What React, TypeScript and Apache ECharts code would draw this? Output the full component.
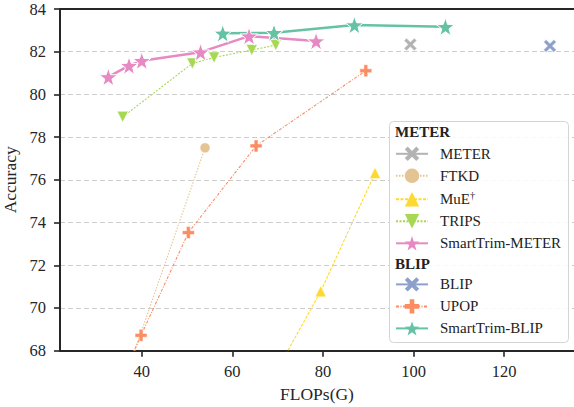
import React, { useEffect, useRef } from "react";
import * as echarts from "echarts";

const meterX = [99.3];
const meterY = [82.34];
const blipX = [130.1];
const blipY = [82.27];
const ftkdX = [35.2, 53.97];
const ftkdY = [66.0, 77.5];
const mueX = [67.0, 79.5, 91.5];
const mueY = [66.0, 70.78, 76.32];
const tripsX = [35.8, 51.17, 55.96, 64.28, 69.58];
const tripsY = [78.95, 81.45, 81.73, 82.08, 82.31];
const stMeterX = [32.63, 37.2, 40.0, 52.98, 63.69, 78.48];
const stMeterY = [80.82, 81.35, 81.58, 81.98, 82.73, 82.5];
const upopX = [34.0, 39.85, 50.29, 65.23, 89.45];
const upopY = [66.0, 68.72, 73.53, 77.59, 81.11];
const stBlipX = [57.88, 69.2, 86.93, 107.02];
const stBlipY = [82.86, 82.89, 83.25, 83.17];

const xTicks = [40, 60, 80, 100, 120];
const meterGroup = ["METER", "FTKD", "MuE†", "TRIPS", "SmartTrim-METER"];
const blipGroup = ["BLIP", "UPOP", "SmartTrim-BLIP"];

const STAR =
  "path://M0,-10 L2.35,-3.24 9.51,-3.09 3.8,1.24 5.88,8.09 0,4 -5.88,8.09 -3.8,1.24 -9.51,-3.09 -2.35,-3.24 Z";
const XMARK =
  "path://M0,2 L2,0 L5,3 L8,0 L10,2 L7,5 L10,8 L8,10 L5,7 L2,10 L0,8 L3,5 Z";
const PLUS =
  "path://M3.4,0 H6.6 V3.4 H10 V6.6 H6.6 V10 H3.4 V6.6 H0 V3.4 H3.4 Z";
const TRI_DOWN = "path://M0,0 L10,0 L5,9 Z";
const TRI_UP = "path://M5,0 L10,9 L0,9 Z";

const zip = (xs: number[], ys: number[]) => xs.map((x, i) => [x, ys[i]]);

const FONT = "Liberation Serif";

export default function App() {
  const ref = useRef<HTMLDivElement>(null);
  useEffect(() => {
    if (!ref.current) return;
    const chart = echarts.init(ref.current, null, { renderer: "svg" });
    const mk = (
      name: string,
      xs: number[],
      ys: number[],
      color: string,
      symbol: string,
      size: number,
      width: number,
      type: any,
      border: number
    ) => ({
      name,
      type: "line",
      data: zip(xs, ys),
      symbol,
      symbolSize: size,
      showAllSymbol: true,
      clip: true,
      lineStyle: { color, width, type },
      itemStyle: { color, borderColor: "#ffffff", borderWidth: border, opacity: 1 },
      emphasis: { disabled: true },
    });
    const legendCommon = {
      orient: "vertical",
      left: 395,
      padding: 0,
      itemWidth: 32,
      itemHeight: 18,
      itemGap: 7,
      selectedMode: false,
      itemStyle: { borderWidth: 0 },
      textStyle: {
        fontFamily: FONT,
        fontSize: 15,
        color: "#222222",
        padding: [0, 0, 0, 7],
        rich: {
          n: { fontFamily: FONT, fontSize: 15, color: "#222222" },
          s: { fontFamily: FONT, fontSize: 10, color: "#222222", padding: [0, 0, 8, 0] },
        },
      },
      formatter: (name: string) => (name === "MuE†" ? "{n|MuE}{s|†}" : name),
    };
    chart.setOption({
      animation: false,
      backgroundColor: "#ffffff",
      textStyle: { fontFamily: FONT },
      grid: {
        left: 60,
        right: 0,
        top: 9,
        bottom: 56.3,
        containLabel: false,
        outerBoundsMode: "none",
      },
      xAxis: [
        {
          type: "value",
          min: 21.96,
          max: 135.4,
          name: "FLOPs(G)",
          nameLocation: "middle",
          nameGap: 34.5,
          nameTextStyle: { fontFamily: FONT, fontSize: 17.5, color: "#262626" },
          axisLine: { show: true, onZero: false, lineStyle: { color: "#262626", width: 2 } },
          axisTick: {
            show: true,
            length: 6,
            customValues: xTicks,
            lineStyle: { color: "#262626", width: 1.6 },
          },
          axisLabel: {
            customValues: xTicks,
            margin: 12,
            fontFamily: FONT,
            fontSize: 16.5,
            color: "#262626",
          },
          splitLine: { show: false },
        },
        {
          type: "value",
          position: "top",
          min: 21.96,
          max: 135.4,
          axisLine: { show: true, onZero: false, lineStyle: { color: "#262626", width: 2 } },
          axisTick: { show: false },
          axisLabel: { show: false },
          splitLine: { show: false },
        },
      ],
      yAxis: {
        type: "value",
        min: 68,
        max: 84,
        interval: 2,
        name: "Accuracy",
        nameLocation: "middle",
        nameGap: 35.5,
        nameTextStyle: { fontFamily: FONT, fontSize: 17.5, color: "#262626" },
        axisLine: { show: true, onZero: false, lineStyle: { color: "#262626", width: 2 } },
        axisTick: { show: true, length: 6, lineStyle: { color: "#262626", width: 1.6 } },
        axisLabel: { margin: 14, fontFamily: FONT, fontSize: 16.5, color: "#262626" },
        splitLine: { show: true, lineStyle: { color: "#cccccc", width: 1.2, type: [5, 3] } },
      },
      legend: [
        { ...legendCommon, top: 146.3, data: meterGroup },
        { ...legendCommon, top: 276.9, data: blipGroup },
      ],
      graphic: [
        {
          type: "rect",
          z: 3,
          shape: { x: 389.5, y: 121.5, width: 179, height: 221, r: 4 },
          style: { fill: "rgba(255,255,255,0.85)", stroke: "#d4d4d4", lineWidth: 1 },
        },
        {
          type: "text",
          z: 5,
          x: 395,
          y: 131.7,
          style: {
            text: "METER",
            fontFamily: FONT,
            fontSize: 15,
            fontWeight: "bold",
            fill: "#222222",
            verticalAlign: "middle",
          },
        },
        {
          type: "text",
          z: 5,
          x: 395,
          y: 264,
          style: {
            text: "BLIP",
            fontFamily: FONT,
            fontSize: 15,
            fontWeight: "bold",
            fill: "#222222",
            verticalAlign: "middle",
          },
        },
      ],
      series: [
        mk("METER", meterX, meterY, "#b3b3b3", XMARK, 13, 1.5, "solid", 0.8),
        mk("BLIP", blipX, blipY, "#8da0cb", XMARK, 13, 1.5, "solid", 0.8),
        mk("FTKD", ftkdX, ftkdY, "#e5c494", "circle", 10, 1.1, [1.5, 1.5], 0.5),
        mk("UPOP", upopX, upopY, "#fc8d62", PLUS, 12, 1.1, [3, 1.5, 1, 1.5], 0.5),
        mk("MuE†", mueX, mueY, "#ffd92f", TRI_UP, 11, 1.1, [3, 1.5], 0.5),
        mk("TRIPS", tripsX, tripsY, "#a6d854", TRI_DOWN, 11, 1.1, [2, 1.5], 0.5),
        mk("SmartTrim-BLIP", stBlipX, stBlipY, "#66c2a5", STAR, 18, 2.5, "solid", 1),
        mk("SmartTrim-METER", stMeterX, stMeterY, "#e78ac3", STAR, 18, 2.5, "solid", 1),
      ],
    });
    return () => chart.dispose();
  }, []);
  return (
    <div
      ref={ref}
      style={{ position: "fixed", left: 0, top: 0, width: 574, height: 407 }}
    />
  );
}
